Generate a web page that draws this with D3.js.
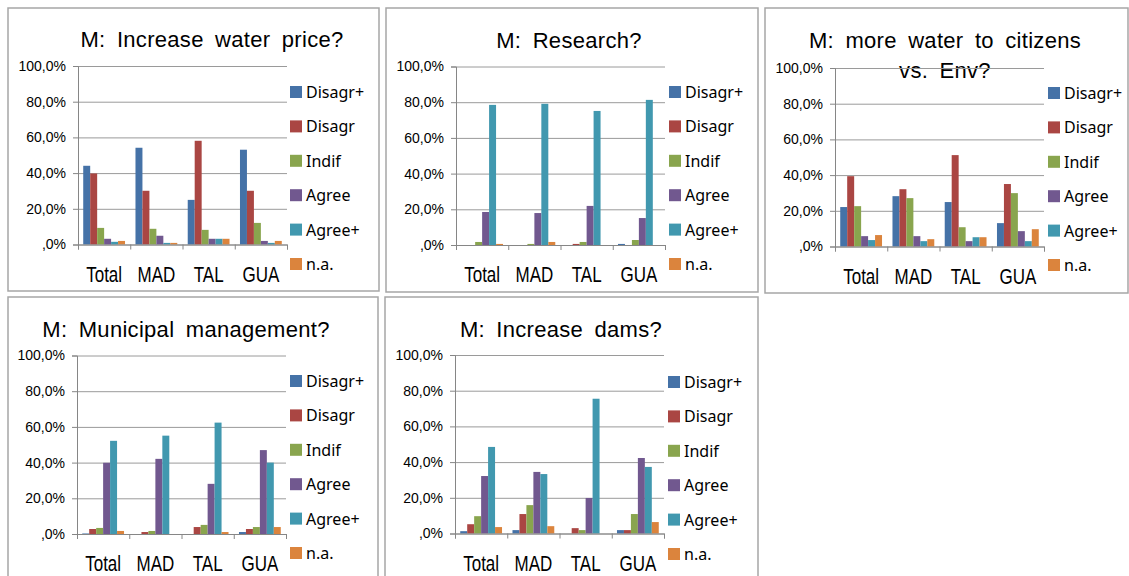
<!DOCTYPE html>
<html>
<head>
<meta charset="utf-8">
<script src="https://cdn.jsdelivr.net/npm/d3@7"></script>
<style>
  body { margin: 0; background: #fff; }
  text { fill: #000; }
</style>
</head>
<body>
<script>
// categories, series and ticks
var categories = ["Total", "MAD", "TAL", "GUA"];
var seriesNames = ["Disagr+", "Disagr", "Indif", "Agree", "Agree+", "n.a."];
var seriesColors = ["#4572A7", "#AA4643", "#89A54E", "#71588F", "#4198AF", "#DB843D"];
var yTicks = [0, 20, 40, 60, 80, 100];

// values in %, one row per series, one column per category
var waterPrice = [
  [44.1, 54.2, 25.0, 53.1],
  [39.8, 30.1, 58.1, 30.1],
  [9.3, 8.8, 8.2, 12.1],
  [3.2, 4.9, 3.2, 2.0],
  [1.5, 0.9, 3.2, 0.9],
  [2.0, 0.9, 3.2, 2.0]
];
var research = [
  [0, 0, 0, 0.6],
  [0, 0, 0.6, 0],
  [1.7, 0.6, 1.7, 2.8],
  [18.5, 17.9, 21.9, 15.1],
  [78.5, 79.1, 75.1, 81.3],
  [0.6, 1.7, 0, 0]
];
var waterVsEnv = [
  [22.1, 28.2, 24.9, 13.1],
  [39.4, 32.1, 51.2, 35.0],
  [22.6, 27.1, 10.8, 29.9],
  [5.8, 5.8, 3.0, 8.6],
  [3.6, 3.0, 5.2, 3.0],
  [6.4, 4.1, 5.2, 9.7]
];
var municipal = [
  [0.3, 0, 0, 1.1],
  [2.8, 1.1, 3.9, 2.8],
  [3.4, 1.7, 5.1, 3.9],
  [39.9, 42.1, 28.1, 47.0],
  [52.2, 55.1, 62.4, 40.0],
  [1.7, 0, 1.1, 3.9]
];
var dams = [
  [1.3, 1.9, 0, 1.9],
  [5.2, 10.9, 3.0, 1.9],
  [9.7, 15.9, 1.9, 10.9],
  [32.2, 34.5, 19.9, 42.3],
  [48.5, 33.3, 75.5, 37.3],
  [3.6, 4.1, 0, 6.4]
];

// panel layout
var panels = [
  {title: ["M: Increase water price?"], values: waterPrice,
   box: [8, 8, 379, 291], px: 78, py: 66, tx: 212, ty: 47, lx: 290, ly: 92},
  {title: ["M: Research?"], values: research,
   box: [386, 8, 758, 292], px: 456, py: 66.5, tx: 569, ty: 48, lx: 669, ly: 92},
  {title: ["M: more water to citizens", "vs. Env?"], values: waterVsEnv,
   box: [765, 8, 1128, 293], px: 835, py: 68, tx: 945, ty: 48, lx: 1048, ly: 93},
  {title: ["M: Municipal management?"], values: municipal,
   box: [8, 297, 378, 584], px: 77, py: 355.5, tx: 186, ty: 337, lx: 290, ly: 381},
  {title: ["M: Increase dams?"], values: dams,
   box: [385, 297, 758, 584], px: 455, py: 355, tx: 561, ty: 337, lx: 668, ly: 382}
];

var plotW = 209, plotH = 178.5;
var width = 1129, height = 576;

var svg = d3.select("body").append("svg")
  .attr("width", width)
  .attr("height", height);

var fmt = function(d) {
  return d === 0 ? ",0%" : d.toFixed(1).replace(".", ",") + "%";
};

panels.forEach(function(p) {
  // frame
  svg.append("rect")
    .attr("x", p.box[0]).attr("y", p.box[1])
    .attr("width", p.box[2] - p.box[0]).attr("height", p.box[3] - p.box[1])
    .attr("fill", "#fff").attr("stroke", "#a6a6a6").attr("stroke-width", 1.5);

  // title
  p.title.forEach(function(t, i) {
    svg.append("text")
      .attr("x", p.tx).attr("y", p.ty + i * 30)
      .attr("text-anchor", "middle")
      .style("font-family", "'Liberation Sans', Arial, sans-serif")
      .style("font-size", "22px")
      .style("word-spacing", "5px")
      .style("letter-spacing", "0.3px")
      .text(t);
  });

  var g = svg.append("g").attr("transform", "translate(" + p.px + "," + p.py + ")");

  var y = d3.scaleLinear().domain([0, 100]).range([plotH, 0]);
  var x0 = d3.scaleBand().domain(categories).range([0, plotW])
    .paddingInner(0.2).paddingOuter(0.1);
  var x1 = d3.scaleBand().domain(seriesNames).range([0, x0.bandwidth()]);
  var xb = d3.scaleLinear().domain([0, categories.length]).range([0, plotW]);

  // gridlines + y labels
  var yAxis = g.append("g")
    .call(d3.axisLeft(y).tickValues(yTicks).tickFormat(fmt).tickSize(-plotW).tickPadding(12));
  yAxis.select(".domain").remove();
  yAxis.selectAll(".tick line").attr("stroke", "#9a9a9a");
  yAxis.selectAll(".tick text")
    .style("font-family", "'Liberation Sans', Arial, sans-serif")
    .style("font-size", "14px")
    .attr("fill", "#000");
  // small outer ticks
  var yTickOut = g.append("g").call(d3.axisLeft(y).tickValues(yTicks).tickSize(5).tickFormat(""));
  yTickOut.selectAll("line, path").attr("stroke", "#868686");

  // bars
  g.selectAll(".series")
    .data(p.values)
    .enter().append("g")
    .attr("fill", function(d, i) { return seriesColors[i]; })
    .each(function(row, si) {
      d3.select(this).selectAll("rect")
        .data(row)
        .enter().append("rect")
        .attr("x", function(v, ci) { return x0(categories[ci]) + x1(seriesNames[si]); })
        .attr("width", x1.bandwidth())
        .attr("y", function(v) { return y(v); })
        .attr("height", function(v) { return plotH - y(v); });
    });

  // x axis with boundary ticks
  var xAxis = g.append("g").attr("transform", "translate(0," + plotH + ")")
    .call(d3.axisBottom(xb).tickValues(d3.range(categories.length + 1)).tickSize(5).tickFormat(""));
  xAxis.selectAll("line, path").attr("stroke", "#868686");

  // category labels (vertically stretched like the original)
  g.selectAll(".cat")
    .data(categories)
    .enter().append("text")
    .attr("transform", function(d) {
      return "translate(" + (x0(d) + x0.bandwidth() / 2) + "," + (plotH + 37) + ") scale(1,1.25)";
    })
    .attr("text-anchor", "middle")
    .style("font-family", "'Liberation Sans', Arial, sans-serif")
    .style("font-size", "17px")
    .text(function(d) { return d; });

  // legend
  var leg = svg.append("g").attr("transform", "translate(" + p.lx + "," + p.ly + ")");
  seriesNames.forEach(function(s, i) {
    var row = leg.append("g").attr("transform", "translate(0," + (i * 34.4) + ")");
    row.append("rect")
      .attr("x", 0).attr("y", -6).attr("width", 12).attr("height", 12)
      .attr("fill", seriesColors[i]);
    row.append("text")
      .attr("x", 16).attr("y", 6)
      .style("font-family", "'Noto Sans', sans-serif")
      .style("font-size", "16px")
      .text(s);
  });
});
</script>
</body>
</html>
